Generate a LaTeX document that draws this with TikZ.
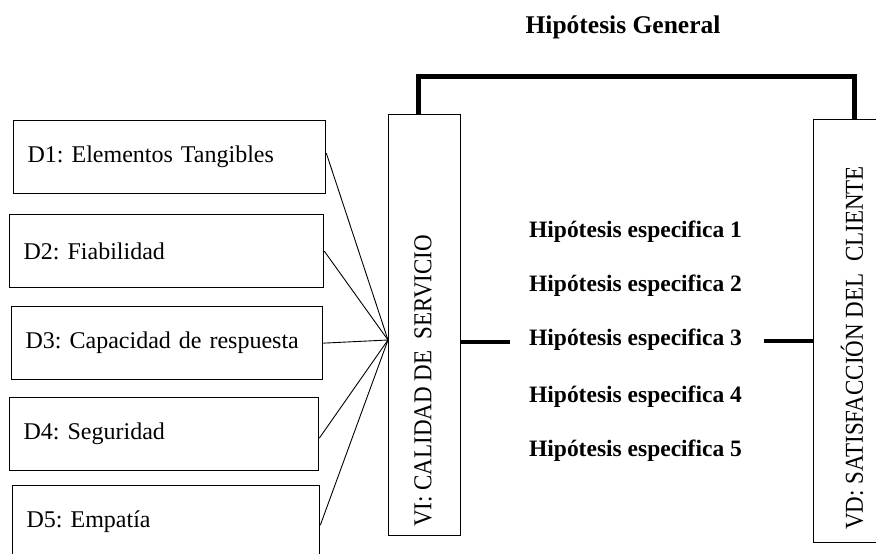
\documentclass[tikz,border=0pt]{standalone}
\usepackage{fontspec}
\setmainfont{Liberation Serif}
\frenchspacing
\begin{document}
\begin{tikzpicture}[x=1pt,y=-1pt,
  txt/.style={font=\fontsize{24}{28}\selectfont},
  dbox/.style={txt,draw,line width=1.3pt,minimum height=73pt,text width=#1,align=left,inner xsep=14pt,anchor=north west},
  vbox/.style={draw,line width=1.3pt,anchor=north west,inner sep=0pt},
  rot/.style={font=\fontsize{23}{27}\selectfont,rotate=90,yscale=1.12,anchor=west,inner sep=0pt},
  hyp/.style={font=\fontsize{23.5}{27}\selectfont\bfseries,inner sep=0pt},
  fan/.style={line width=0.9pt},
  thickline/.style={line width=5pt},
  shortline/.style={line width=4pt}]
\useasboundingbox (0,0) rectangle (876,554);
\clip (0,0) rectangle (876,554);
% title
\node[font=\fontsize{25.5}{29}\selectfont\bfseries,inner sep=0pt] (gen) at (623,27) {Hipótesis General};
% dimension boxes
\node[dbox=284pt] (d1) at (13,120) {D1: Elementos Tangibles};
\node[dbox=286pt] (d2) at (9,214) {D2: Fiabilidad};
\node[dbox=283pt] (d3) at (11,306) {D3: Capacidad de respuesta};
\node[dbox=281pt] (d4) at (9,397) {D4: Seguridad};
\node[dbox=279pt] (d5) at (12,485) {D5: Empatía};
% variable boxes
\node[vbox,minimum width=72pt,minimum height=421pt] (vi) at (388,114) {};
\node[vbox,minimum width=78pt,minimum height=423pt] (vd) at (813,119) {};
\node[rot] (vit) at (423,527) {VI: CALIDAD DE\ \ SERVICIO};
\node[rot] (vdt) at (852,530) {VD: SATISFACCIÓN DEL\ \ CLIENTE};
% hypotheses
\node[hyp] (h1) at (635.5,232) {Hipótesis especifica 1};
\node[hyp] (h2) at (635.5,286) {Hipótesis especifica 2};
\node[hyp] (h3) at (635.5,340) {Hipótesis especifica 3};
\node[hyp] (h4) at (635.5,397) {Hipótesis especifica 4};
\node[hyp] (h5) at (635.5,451) {Hipótesis especifica 5};
% fan lines
\coordinate (hub) at (vi.west |- 0,340);
\draw[fan] ([yshift=4pt]d1.east) -- (hub);
\draw[fan] (d2.east) -- (hub);
\draw[fan] (d3.east) -- (hub);
\draw[fan] ([yshift=-4pt]d4.east) -- (hub);
\draw[fan] ([yshift=-3pt]d5.east) -- (hub);
% general bracket
\coordinate (tl) at (418,76);
\coordinate (tr) at (854,76);
\draw[thickline] (vi.north -| tl) -- (tl) -- (tr) -- (vd.north -| tr);
% short connectors
\draw[shortline] ([yshift=-2pt]vi.east |- h3) -- ([xshift=-19pt,yshift=-2pt]h3.west);
\draw[shortline] ([xshift=22pt,yshift=-1pt]h3.east) -- ([yshift=-1pt]vd.west |- h3);
\end{tikzpicture}
\end{document}
